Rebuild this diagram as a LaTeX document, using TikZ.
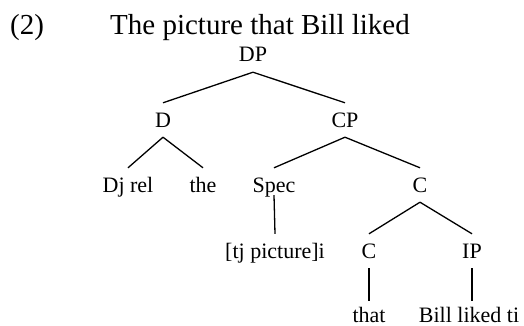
\documentclass[tikz,border=0pt]{standalone}
\usepackage{fontspec}
\setmainfont{Liberation Serif}
\begin{document}
\begin{tikzpicture}[x=1pt,y=-1pt]
\newcommand{\xunit}{1}
\newcommand{\yunit}{1}
\tikzstyle{cat}=[anchor=base,inner xsep=0pt,inner ysep=10pt,text height=14pt,text depth=0pt,font=\fontsize{22}{26}\selectfont]
\tikzstyle{heading}=[anchor=base west,inner sep=0pt,font=\fontsize{29}{34}\selectfont]
\tikzstyle{branch}=[line width=1.3pt]
\useasboundingbox (0,0) rectangle (524,326);
\node[heading] (ex) at (\xunit*10,\yunit*35) {(2)};
\node[heading] (title) at (\xunit*110,\yunit*35) {The picture that Bill liked};
\node[cat] (1) at (\xunit*253,\yunit*62) {DP};
\node[cat] (2) at (\xunit*163,\yunit*127) {D};
\node[cat] (3) at (\xunit*345,\yunit*127) {CP};
\node[cat] (4) at (\xunit*128,\yunit*192) {Dj rel};
\node[cat] (5) at (\xunit*203,\yunit*192) {the};
\node[cat] (6) at (\xunit*274,\yunit*192) {Spec};
\node[cat] (7) at (\xunit*420,\yunit*192) {C};
\node[cat] (8) at (\xunit*275,\yunit*258) {[tj picture]i};
\node[cat] (9) at (\xunit*369,\yunit*258) {C};
\node[cat] (10) at (\xunit*472,\yunit*258) {IP};
\node[cat] (11) at (\xunit*369,\yunit*322) {that};
\node[cat] (12) at (\xunit*469,\yunit*322) {Bill liked ti};
\draw[branch] (1.south) -- (2.north);
\draw[branch] (1.south) -- (3.north);
\draw[branch] (2.south) -- (4.north);
\draw[branch] (2.south) -- (5.north);
\draw[branch] (3.south) -- (6.north);
\draw[branch] (3.south) -- (7.north);
\draw[branch] ([yshift=7pt]6.south) -- (8.north);
\draw[branch] (7.south) -- (9.north);
\draw[branch] (7.south) -- (10.north);
\draw[branch] (9.south) -- ([yshift=-3pt]11.north);
\draw[branch] (10.south) -- ([yshift=-3pt]10.south |- 12.north);
\end{tikzpicture}
\end{document}
